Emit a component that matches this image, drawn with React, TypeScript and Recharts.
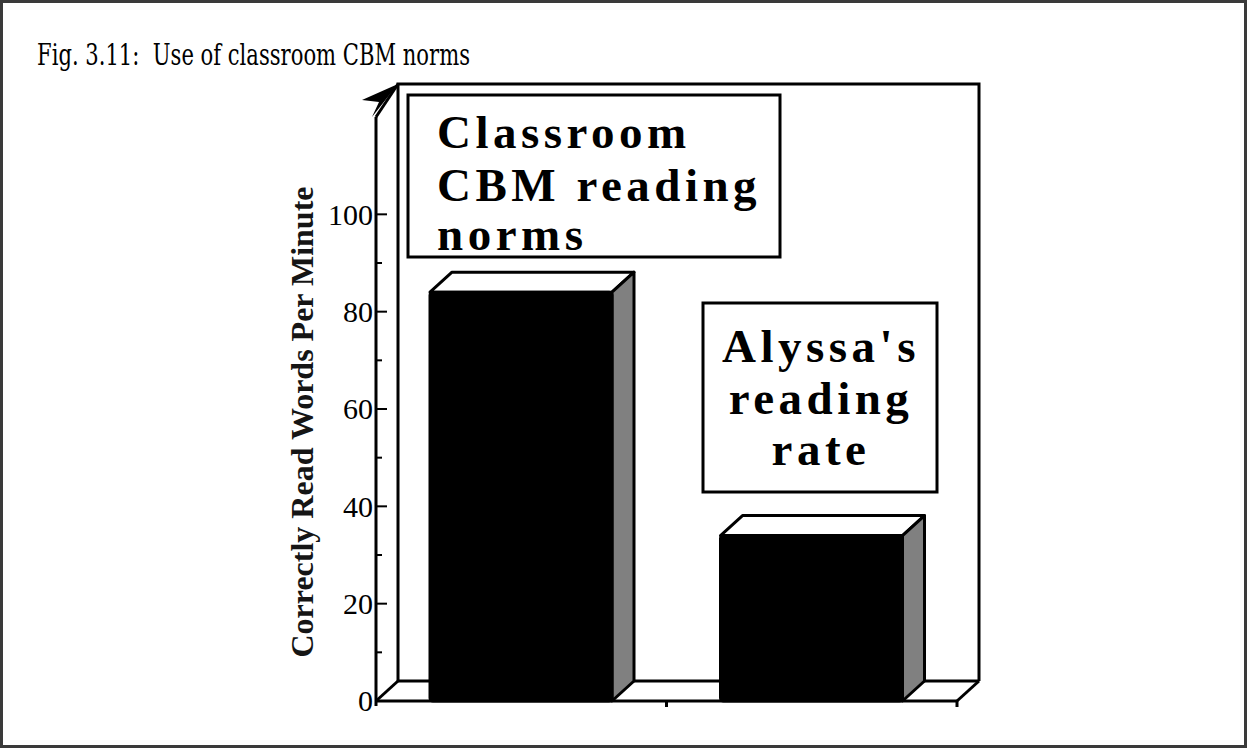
import React from "react";
import { Bar, BarChart, ReferenceArea, XAxis, YAxis } from "recharts";

// values
const categories = ["Classroom CBM reading norms", "Alyssa's reading rate"];
const rates = [84, 34];
const yTicks = [0, 10, 20, 30, 40, 50, 60, 70, 80, 90, 100];
const yMax = 120;
const title = "Fig. 3.11:  Use of classroom CBM norms";
const yLabel = "Correctly Read Words Per Minute";
const normsLines = ["Classroom", "CBM reading", "norms"];
const alyssaLines = ["Alyssa's", "reading", "rate"];

const chartData = categories.map((name, i) => ({ name, rate: rates[i] }));

const DX = 22;
const DY = 20;
const SERIF = '"Liberation Serif", "Times New Roman", serif';

function Bar3D(props: any) {
    const { x, y, width, height } = props;
    const r = x + width;
    const b = y + height;
    return (
        <g>
            <polygon points={`${x},${y} ${x + DX},${y - DY} ${r + DX},${y - DY} ${r},${y}`} fill="#fff" stroke="#000" strokeWidth={3} strokeLinejoin="round" />
            <polygon points={`${r},${y} ${r + DX},${y - DY} ${r + DX},${b - DY} ${r},${b}`} fill="#808080" stroke="#000" strokeWidth={3} strokeLinejoin="round" />
            <rect x={x} y={y} width={width} height={height} fill="#000" stroke="#000" strokeWidth={3} rx={3} />
        </g>
    );
}

// back wall, floor and the depth arrow of the y axis
function Frame(props: any) {
    const { x, y, width, height } = props;
    const r = x + width;
    const b = y + height;
    const top = y - 33;
    const n = categories.length;
    const tx = x + DX;
    return (
        <g fill="none" stroke="#000" strokeWidth={3}>
            <polyline points={`${x + DX},${b - DY} ${x + DX},${top} ${r + DX},${top} ${r + DX},${b - DY}`} />
            <line x1={x + DX} y1={b - DY} x2={r + DX} y2={b - DY} />
            <line x1={x} y1={b} x2={x + DX} y2={b - DY} />
            <line x1={r} y1={b} x2={r + DX} y2={b - DY} />
            <line x1={x} y1={b} x2={r} y2={b} />
            <line x1={x} y1={b} x2={x} y2={b + 5} />
            {categories.map((c, i) => {
                const cx = x + (width * (i + 1)) / n;
                return <line key={c} x1={cx} y1={b} x2={cx} y2={b + 6} />;
            })}
            <line x1={x} y1={y} x2={tx} y2={top} />
            <polygon points={`${tx},${top} ${tx - 36},${top + 16} ${tx - 19},${top + 18} ${tx - 26},${top + 33}`} fill="#000" stroke="none" />
        </g>
    );
}

function YTick(props: any) {
    const { x, y, payload } = props;
    const v = payload.value;
    const major = v % 20 === 0;
    return (
        <g>
            <line x1={x} y1={y} x2={x + (major ? 11 : 6)} y2={y} stroke="#000" strokeWidth={2} />
            {major && (
                <text x={x - 3} y={y} dy="0.34em" textAnchor="end" fontSize={30} fontFamily={SERIF} fill="#000">
                    {v}
                </text>
            )}
        </g>
    );
}

function YTitle(props: any) {
    const vb = props.viewBox || { x: 0, y: 117, width: 376, height: 584 };
    const cx = vb.x + vb.width - 63;
    const cy = vb.y + vb.height / 2 + 13;
    return (
        <text x={cx} y={cy} transform={`rotate(-90 ${cx} ${cy})`} textAnchor="middle" fontSize={32} fontWeight="bold" fontFamily={SERIF} fill="#151515">
            {yLabel}
        </text>
    );
}

function LabelBox(p: { x: number; y: number; w: number; h: number; lines: string[]; tx: number; anchor: "start" | "middle"; baselines: number[] }) {
    return (
        <g>
            <rect x={p.x} y={p.y} width={p.w} height={p.h} fill="#fff" stroke="#000" strokeWidth={3} />
            {p.lines.map((l, i) => (
                <text key={l} x={p.tx} y={p.baselines[i]} textAnchor={p.anchor} fontSize={47} fontWeight="bold" fontFamily={SERIF} letterSpacing={4.5} fill="#000">
                    {l}
                </text>
            ))}
        </g>
    );
}

export default function App() {
    return (
        <div style={{ position: "absolute", left: 0, top: 0, width: 1247, height: 748, background: "#fff" }}>
            <BarChart width={1247} height={748} data={chartData} margin={{ top: 117, right: 290, bottom: 47, left: 0 }}>
                <XAxis dataKey="name" hide />
                <YAxis
                    width={376}
                    domain={[0, yMax]}
                    ticks={yTicks}
                    interval={0}
                    tickSize={0}
                    tickMargin={0}
                    tickLine={false}
                    tick={<YTick />}
                    axisLine={{ stroke: "#000", strokeWidth: 3 }}
                    label={{ value: yLabel, content: (p: any) => <YTitle {...p} /> }}
                />
                <ReferenceArea y1={0} y2={yMax} ifOverflow="visible" shape={(p: any) => <Frame {...p} />} />
                <Bar dataKey="rate" barSize={182} shape={(p: any) => <Bar3D {...p} />} isAnimationActive={false} />
            </BarChart>
            <svg width={1247} height={748} style={{ position: "absolute", left: 0, top: 0, pointerEvents: "none" }}>
                <rect x={1.5} y={1.5} width={1244} height={745} fill="none" stroke="#3a3a3a" strokeWidth={3} />
                <text x={37} y={65} fontSize={29} fontFamily='"DejaVu Serif Condensed", "DejaVu Serif", serif' textLength={433} lengthAdjust="spacingAndGlyphs" style={{ whiteSpace: "pre" }} fill="#000">
                    {title}
                </text>
                <LabelBox x={408} y={95} w={372} h={162} lines={normsLines} tx={437} anchor="start" baselines={[148, 201, 250]} />
                <LabelBox x={703} y={303} w={234} h={189} lines={alyssaLines} tx={821} anchor="middle" baselines={[362, 414, 465]} />
            </svg>
        </div>
    );
}
